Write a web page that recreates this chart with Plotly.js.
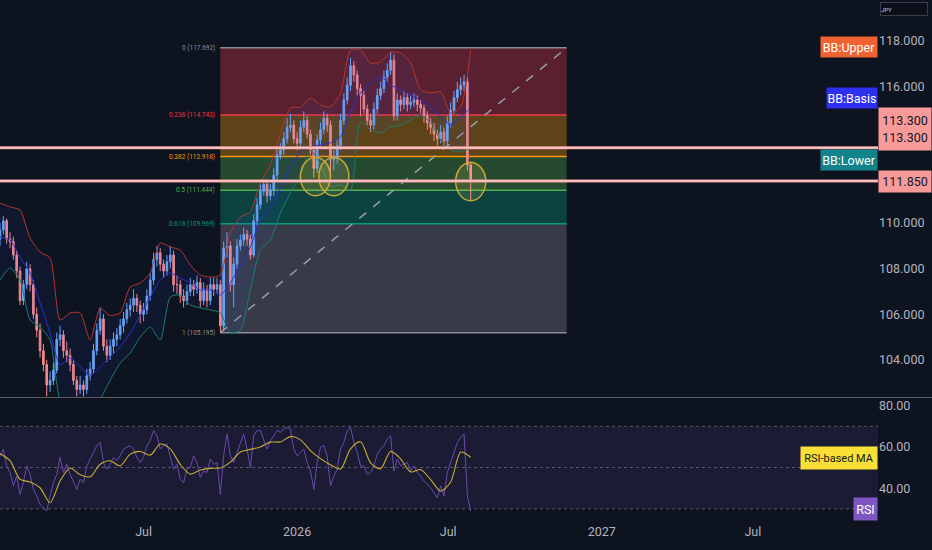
<!DOCTYPE html>
<html><head><meta charset="utf-8">
<script src="https://cdn.plot.ly/plotly-3.0.1.min.js"></script>
<style>html,body{margin:0;padding:0;background:#0e1320;}#chart{width:932px;height:550px;}</style>
</head><body><div id="chart"></div>
<script>
// ---------- data ----------
const candleStart = '2025-01-10';
const candleStepDays = 4;
const openP = [109.3,109.7,110.1,109.3,109.2,108.6,107.9,106.6,107.3,108.0,107.3,106.0,105.3,104.4,103.8,102.9,103.1,103.55,104.9,105.1,
104.4,104.2,103.8,103.1,102.7,102.9,102.7,103.3,103.6,104.4,105.3,105.8,104.6,104.2,104.6,104.9,105.1,105.5,105.8,106.2,
106.4,106.7,106.4,106.0,106.2,106.8,107.5,108.4,108.7,108.2,107.9,108.3,108.6,107.3,107.3,106.8,106.6,107.0,107.3,107.1,
107.4,106.6,107.1,106.6,107.3,107.1,107.3,105.5,108.9,109.0,107.3,108.2,109.0,109.25,109.5,109.3,108.6,110.1,110.8,111.4,
111.7,111.2,111.45,112.1,113.0,113.2,113.7,114.2,114.3,113.7,113.5,114.2,114.5,113.9,113.2,112.4,113.65,114.1,114.6,114.3,
112.8,112.85,113.4,114.5,115.4,116.05,116.9,116.5,115.9,115.6,115.0,114.5,114.3,115.0,115.6,115.9,116.4,116.7,117.15,114.7,
115.4,115.2,115.5,115.2,115.3,115.4,115.2,115.05,114.7,114.4,114.2,113.9,113.7,114.0,113.6,114.4,114.95,115.5,115.85,116.05,
116.2,112.55];
const highP = [110.0,110.3,110.2,109.6,109.4,108.8,108.1,107.5,108.3,108.2,107.5,106.3,105.6,104.7,104.0,103.5,103.9,105.2,105.5,105.3,
104.8,104.5,104.0,103.3,103.3,103.1,103.6,103.9,104.7,105.6,106.3,106.0,104.9,104.9,105.2,105.4,105.8,106.1,106.5,106.7,
107.1,106.9,106.6,106.5,107.1,107.8,108.7,109.0,108.9,108.4,108.6,109.0,108.8,107.7,107.5,107.1,107.3,107.6,107.5,107.7,
107.6,107.4,107.3,107.6,107.6,107.6,107.5,109.2,109.6,109.2,108.5,109.3,109.5,109.8,109.7,109.5,110.4,111.1,111.7,111.9,
111.9,111.7,112.4,113.3,113.5,114.0,114.6,114.8,114.5,114.0,114.5,114.9,114.7,114.1,113.4,113.9,114.4,114.9,114.8,114.5,
113.2,113.7,114.8,115.7,116.4,117.25,117.1,116.7,116.1,115.8,115.2,114.8,115.3,115.9,116.2,116.7,117.0,117.5,117.4,115.7,
115.6,115.8,115.7,115.6,115.7,115.6,115.4,115.2,114.9,114.6,114.4,114.1,114.3,114.2,114.7,115.3,115.8,116.2,116.4,116.5,
116.4,112.7];
const lowP = [109.0,109.5,109.1,108.9,108.4,107.6,106.4,106.4,107.1,107.0,105.8,105.0,104.1,103.5,102.4,102.6,102.9,103.4,104.6,104.1,
103.9,103.5,102.9,102.4,102.5,102.4,102.5,103.1,103.4,104.2,105.1,104.4,103.9,104.0,104.3,104.6,104.9,105.2,105.6,105.9,
106.1,106.1,105.6,105.7,106.0,106.6,107.3,108.1,107.9,107.6,107.7,108.0,107.0,106.9,106.5,106.3,106.4,106.8,106.8,106.9,
106.3,106.4,106.3,106.4,106.8,106.9,105.2,105.3,108.5,107.0,106.3,108.0,108.8,109.0,109.0,108.4,108.5,109.9,110.6,111.2,
110.9,111.0,111.2,111.9,112.8,113.0,113.5,114.0,113.5,113.2,113.3,114.0,113.7,113.0,112.0,112.2,113.4,113.9,114.0,111.95,
112.3,112.6,113.2,114.3,115.2,115.8,116.2,115.6,114.7,114.8,114.3,114.0,114.1,114.8,115.4,115.7,116.2,116.5,114.5,114.5,
114.9,115.0,114.9,115.0,115.1,114.9,114.8,114.4,114.1,113.9,113.6,113.4,113.5,113.35,113.4,114.2,114.8,115.3,115.6,115.8,
112.3,111.0];
const closeP = [109.7,110.1,109.3,109.2,108.6,107.9,106.6,107.3,108.0,107.3,106.0,105.3,104.4,103.8,102.9,103.1,103.55,104.9,105.1,104.4,
104.2,103.8,103.1,102.7,102.9,102.7,103.3,103.6,104.4,105.3,105.8,104.6,104.2,104.6,104.9,105.1,105.5,105.8,106.2,106.4,
106.7,106.4,106.0,106.2,106.8,107.5,108.4,108.7,108.2,107.9,108.3,108.6,107.3,107.3,106.8,106.6,107.0,107.3,107.1,107.4,
106.6,107.1,106.6,107.3,107.1,107.3,105.5,108.9,109.0,107.3,108.2,109.0,109.25,109.5,109.3,108.6,110.1,110.8,111.4,111.7,
111.2,111.45,112.1,113.0,113.2,113.7,114.2,114.3,113.7,113.5,114.2,114.5,113.9,113.2,112.4,113.65,114.1,114.6,114.3,112.8,
112.85,113.4,114.5,115.4,116.05,116.9,116.5,115.9,115.6,115.0,114.5,114.3,115.0,115.6,115.9,116.4,116.7,117.15,114.7,115.4,
115.2,115.5,115.2,115.3,115.4,115.2,115.05,114.7,114.4,114.2,113.9,113.7,114.0,113.6,114.4,114.95,115.5,115.85,116.05,116.2,
112.55,111.9];

const bbStepDays = 12;
const bbUpper = [110.88,110.71,110.57,109.35,108.73,108.47,105.75,106.06,106.06,104.87,106.26,105.95,106.06,107.2,107.37,107.81,
109.13,108.95,108.82,108.16,107.72,107.63,107.72,109.57,110.27,110.49,111.76,112.55,113.95,115.05,115.09,115.49,
115.18,115.09,115.71,117.59,117.59,117.02,117.06,117.5,117.46,117.02,115.84,115.71,115.75,114.83,115.09,117.59];
const bbBasis = [109.39,109.26,108.51,107.81,106.5,105.18,103.78,104.08,103.69,103.34,103.69,104.13,104.57,105.18,105.97,106.76,
107.5,107.81,107.59,107.37,107.07,107.07,106.85,107.37,108.16,108.95,110.14,110.71,111.54,112.46,113.12,113.34,
113.43,113.52,113.78,114.87,115.71,116.14,116.41,116.06,115.84,115.63,115.4,115.09,114.65,114.3,114.65,115.05];
const bbLower = [107.5,108.03,107.5,105.75,105.44,104.87,102.24,101.8,101.36,101.36,102.24,103.11,103.86,104.3,105.0,105.44,
104.87,106.76,106.85,106.41,106.28,106.19,106.06,105.18,105.31,107.07,108.82,109.26,110.44,111.32,112.11,113.2,
112.55,111.58,111.67,111.45,114.43,114.08,113.95,114.21,114.3,114.52,114.74,114.39,113.64,113.2,113.12,113.29];

const rsi = [55.7,58.9,50.8,47.6,41.1,45.9,37.0,42.7,50.8,46.7,39.4,36.2,32.1,30.5,28.9,36.2,42.7,46.7,54.9,47.6,
51.6,46.7,42.7,39.4,44.3,42.7,50.8,54.1,57.3,60.6,62.2,52.4,49.2,51.6,54.9,53.3,55.7,58.9,59.8,60.6,
58.9,54.9,52.4,54.9,60.6,63.0,67.9,65.4,58.9,60.6,61.4,55.7,49.2,51.6,44.3,42.7,49.2,50.0,55.7,52.4,
45.1,48.4,47.6,54.1,51.6,52.4,37.0,55.7,66.3,55.7,52.4,57.3,61.4,66.3,58.9,50.0,65.4,67.9,67.9,63.0,
58.9,63.0,65.4,67.9,67.1,68.7,69.5,68.7,58.9,55.7,57.3,58.9,52.4,48.4,39.4,52.4,59.8,60.6,55.7,41.1,
45.9,49.2,58.9,62.2,67.9,69.5,62.2,57.3,50.8,50.8,46.7,47.6,50.8,56.5,58.9,60.6,63.8,65.4,48.4,54.1,
50.8,51.6,52.4,48.4,50.8,47.6,45.9,43.5,41.9,40.2,37.8,35.4,41.1,36.2,47.6,52.4,57.3,62.2,64.6,66.3,
36.2,28.9];
const rsiMA = [56.8,53.3,44.3,43.0,40.2,32.9,43.5,49.8,46.5,45.5,51.6,53.3,50.8,56.5,57.8,56.0,
61.4,59.0,51.5,46.8,48.8,49.6,49.8,52.6,57.5,58.8,60.0,62.3,62.4,65.0,63.4,58.2,
54.3,51.3,49.3,59.0,62.5,52.3,49.4,57.8,54.2,47.9,49.0,44.1,38.6,43.0,57.5,55.0];

const fibRatios = ['0','0.236','0.382','0.5','0.618','1'];
const fibPrices = [117.692,114.743,112.918,111.444,109.969,105.195];
const fibStart = '2025-10-01';
const fibEnd = '2026-11-20';
const priceLines = [113.3, 111.85];
const circleCenters = [['2026-01-23',112.04],['2026-02-14',112.04],['2026-07-28',111.82]];
const xTickVals = ['2025-07-01','2026-01-01','2026-07-01','2027-01-01','2027-07-01'];
const xTickText = ['Jul','2026','Jul','2027','Jul'];
const priceTicks = [104,106,108,110,116,118];
const rsiTicks = [40,60,80];

// ---------- helpers ----------
function addDays(s, n){const d=new Date(s+'T00:00:00Z');d.setUTCDate(d.getUTCDate()+n);return d.toISOString().slice(0,10);}
const W=932,H=550;
const py = p => 1 - p/H;
const px = p => p/W;
const plotRight = 878;

const cDates = closeP.map((_,i)=>addDays(candleStart,i*candleStepDays));
const bbDates = bbUpper.map((_,i)=>addDays(candleStart,i*bbStepDays));
const maDates = rsiMA.map((_,i)=>addDays(candleStart,i*bbStepDays));

const font = 'Roboto, "Liberation Sans", sans-serif';
const tickCol = '#b2b5be';

const traces = [
 {type:'scatter',mode:'lines',x:bbDates,y:bbUpper,line:{color:'#b8352c',width:1,shape:'spline',smoothing:0.6},xaxis:'x',yaxis:'y',hoverinfo:'skip'},
 {type:'scatter',mode:'lines',x:bbDates,y:bbLower,line:{color:'#16806f',width:1,shape:'spline',smoothing:0.6},fill:'tonexty',fillcolor:'rgba(41,98,255,0.07)',xaxis:'x',yaxis:'y',hoverinfo:'skip'},
 {type:'scatter',mode:'lines',x:bbDates,y:bbBasis,line:{color:'#2b2fd6',width:1,shape:'spline',smoothing:0.6},xaxis:'x',yaxis:'y',hoverinfo:'skip'},
 {type:'candlestick',x:cDates,open:openP,high:highP,low:lowP,close:closeP,xaxis:'x',yaxis:'y',
  increasing:{line:{color:'#6ea6f6',width:1},fillcolor:'#6ea6f6'},
  decreasing:{line:{color:'#f48a8d',width:1},fillcolor:'#f48a8d'},hoverinfo:'skip'},
 {type:'scatter',mode:'lines',x:cDates,y:rsi,line:{color:'#6a4bb0',width:1},xaxis:'x',yaxis:'y2',hoverinfo:'skip'},
 {type:'scatter',mode:'lines',x:maDates,y:rsiMA,line:{color:'#c9ad35',width:1.1,shape:'spline',smoothing:0.8},xaxis:'x',yaxis:'y2',hoverinfo:'skip'}
];

const shapes = [];
const annotations = [];
// fib bands
const bandCols = ['#5a2030','#5e4318','#264a30','#0c4341','#383b47'];
for(let k=0;k<5;k++){
  shapes.push({type:'rect',xref:'x',yref:'y',x0:fibStart,x1:fibEnd,y0:fibPrices[k+1],y1:fibPrices[k],fillcolor:bandCols[k],line:{width:0},layer:'below'});
}
const fibCols = ['#8a8d96','#f23645','#ff9800','#4caf50','#089981','#8a8d96'];
fibPrices.forEach((p,k)=>{
  shapes.push({type:'line',xref:'x',yref:'y',x0:fibStart,x1:fibEnd,y0:p,y1:p,line:{color:fibCols[k],width:1.5},layer:'below'});
  annotations.push({xref:'x',yref:'y',x:fibStart,y:p,xanchor:'right',yanchor:'middle',xshift:-3,showarrow:false,
    text:fibRatios[k]+' ('+p.toFixed(3)+')',font:{family:font,size:6.5,color:fibCols[k]}});
});
// diagonal trend line
shapes.push({type:'line',xref:'x',yref:'y',x0:fibStart,y0:fibPrices[5],x1:fibEnd,y1:fibPrices[0],line:{color:'#9a9da6',width:1.5,dash:'dash'},layer:'below'});
// RSI band
shapes.push({type:'rect',xref:'x domain',yref:'y2',x0:0,x1:1,y0:30,y1:70,fillcolor:'#1b1b33',line:{width:0},layer:'below'});
[70,50,30].forEach(v=>shapes.push({type:'line',xref:'x domain',yref:'y2',x0:0,x1:1,y0:v,y1:v,line:{color:'rgba(130,133,145,0.6)',width:1,dash:'3px,3px'},layer:'below'}));
// circles
circleCenters.forEach(c=>{
  shapes.push({type:'circle',xref:'x',yref:'y',x0:addDays(c[0],-18),x1:addDays(c[0],18),y0:c[1]-0.84,y1:c[1]+0.84,
    fillcolor:'rgba(255,230,80,0.13)',line:{color:'#c6a634',width:1.5},layer:'above'});
});
// price lines
priceLines.forEach(p=>{
  shapes.push({type:'line',xref:'x domain',yref:'y',x0:0,x1:1,y0:p,y1:p,line:{color:'#f39a9a',width:3},layer:'above'});
  shapes.push({type:'line',xref:'x domain',yref:'y',x0:0,x1:1,y0:p,y1:p,line:{color:'#fde2e2',width:1},layer:'above'});
});
// pane separator
shapes.push({type:'line',xref:'paper',yref:'paper',x0:0,x1:1,y0:py(397.5),y1:py(397.5),line:{color:'#5a5d68',width:1}});

// labels
function boxLabel(text,xr,yc,bg,fc,w,h,fs){
  annotations.push({xref:'paper',yref:'paper',x:px(xr),y:py(yc),xanchor:'right',yanchor:'middle',showarrow:false,
   text:text,bgcolor:bg,font:{family:font,size:fs||12.5,color:fc},width:w,height:h,borderpad:0,align:'center'});
}
boxLabel('BB:Upper',plotRight,47,'#f0622f','#ffffff',56,20);
boxLabel('BB:Basis',plotRight,98,'#2f2ff0','#ffffff',50,20);
boxLabel('BB:Lower',plotRight,160,'#13838b','#ffffff',56,20);
boxLabel('RSI-based MA',plotRight,458,'#f9df36','#131722',76,22,11);
boxLabel('RSI',plotRight,509,'#7e57c2','#ffffff',23,22);
// right price labels
annotations.push({xref:'paper',yref:'paper',x:px(plotRight),y:py(129),xanchor:'left',yanchor:'middle',showarrow:false,
  text:priceLines[0].toFixed(3)+'<br>'+priceLines[0].toFixed(3),bgcolor:'#f89a9a',font:{family:font,size:12.5,color:'#131722'},width:52,height:42,borderpad:0});
annotations.push({xref:'paper',yref:'paper',x:px(plotRight),y:py(181),xanchor:'left',yanchor:'middle',showarrow:false,
  text:priceLines[1].toFixed(3),bgcolor:'#f89a9a',font:{family:font,size:12.5,color:'#131722'},width:52,height:21,borderpad:0});
// JPY box
annotations.push({xref:'paper',yref:'paper',x:px(880),y:py(2),xanchor:'left',yanchor:'top',showarrow:false,
  text:'JPY',font:{family:font,size:6,color:'#c8cad0'},bgcolor:'#0b0f1a',bordercolor:'#3a3d48',borderwidth:1,width:46,height:12,align:'left',borderpad:0});

const layout = {
  width:W,height:H,margin:{l:0,r:0,t:0,b:0},
  paper_bgcolor:'#0e1320',plot_bgcolor:'#0e1320',
  showlegend:false,hovermode:false,dragmode:false,
  xaxis:{domain:[0,px(plotRight)],anchor:'y2',type:'date',range:['2025-01-10','2027-11-28'],
    tickmode:'array',tickvals:xTickVals,ticktext:xTickText,showgrid:false,zeroline:false,showline:false,ticks:'',
    tickfont:{family:font,size:12.5,color:tickCol},rangeslider:{visible:false},fixedrange:true},
  yaxis:{domain:[py(397),1],anchor:'x',side:'right',range:[102.373,119.785],tickmode:'array',tickvals:priceTicks,
    tickformat:'.3f',showgrid:false,zeroline:false,showline:false,ticks:'',tickfont:{family:font,size:12.5,color:tickCol},fixedrange:true},
  yaxis2:{domain:[py(522),py(398)],anchor:'x',side:'right',range:[23.6,83.7],tickmode:'array',tickvals:rsiTicks,
    tickformat:'.2f',showgrid:false,zeroline:false,showline:false,ticks:'',tickfont:{family:font,size:12.5,color:tickCol},fixedrange:true},
  shapes:shapes,annotations:annotations
};
Plotly.newPlot('chart',traces,layout,{displayModeBar:false,staticPlot:true});
</script></body></html>
